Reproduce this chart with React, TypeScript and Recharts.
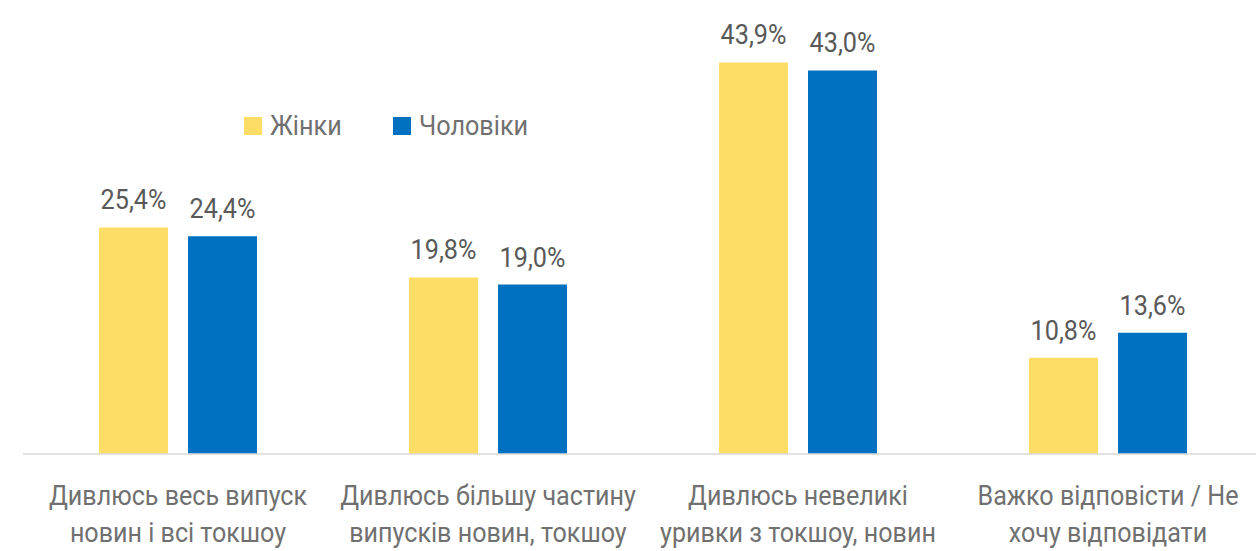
import React from 'react';
import { BarChart, Bar, XAxis, YAxis, LabelList } from 'recharts';

const categories = [
  'Дивлюсь весь випуск новин і всі токшоу',
  'Дивлюсь більшу частину випусків новин, токшоу',
  'Дивлюсь невеликі уривки з токшоу, новин',
  'Важко відповісти / Не хочу відповідати',
];
const tickLines = [
  ['Дивлюсь весь випуск', 'новин і всі токшоу'],
  ['Дивлюсь більшу частину', 'випусків новин, токшоу'],
  ['Дивлюсь невеликі', 'уривки з токшоу, новин'],
  ['Важко відповісти / Не', 'хочу відповідати'],
];
const women = [25.4, 19.8, 43.9, 10.8];
const men = [24.4, 19.0, 43.0, 13.6];
const seriesNames = ['Жінки', 'Чоловіки'];

const data = categories.map((c, i) => ({ name: c, women: women[i], men: men[i] }));

const YELLOW = '#FEDD67';
const BLUE = '#0070C0';
const FONT = 'Roboto, sans-serif';

const fmt = (v: any) => Number(v).toFixed(1).replace('.', ',') + '%';

const Tick = (props: any) => {
  const { x, y, index } = props;
  const lines = tickLines[index] || [];
  return (
    <g transform={`translate(${x},${y}) scale(0.93,1)`}>
      {lines.map((l, i) => (
        <text key={i} x={0} y={43 + i * 37} textAnchor="middle" fill="#707070" fontSize={27} fontFamily={FONT}>
          {l}
        </text>
      ))}
    </g>
  );
};

const ValueLabel = (props: any) => {
  const { x, y, width, value } = props;
  const cx = Number(x) + Number(width) / 2;
  return (
    <g transform={`translate(${cx},${Number(y) - 18}) scale(0.9,1)`}>
      <text x={0} y={0} textAnchor="middle" fill="#595959" fontSize={28} fontFamily={FONT}>
        {fmt(value)}
      </text>
    </g>
  );
};

const LegendBox = () => (
  <div style={{ position: 'absolute', left: 244, top: 112, display: 'flex', alignItems: 'center', fontFamily: FONT, fontSize: 28, color: '#707070' }}>
    {seriesNames.map((n, i) => (
      <div key={n} style={{ display: 'flex', alignItems: 'center', marginRight: i === 0 ? 51 : 0 }}>
        <div style={{ width: 18, height: 18, background: i === 0 ? YELLOW : BLUE, marginRight: 8 }} />
        <span style={{ display: 'inline-block', transform: 'scaleX(0.9)', transformOrigin: 'left center', lineHeight: '28px', width: i === 0 ? 72 : 110, whiteSpace: 'nowrap' }}>{n}</span>
      </div>
    ))}
  </div>
);

export default function App() {
  return (
    <div style={{ position: 'absolute', left: 0, top: 0, width: 1256, height: 551, overflow: 'hidden', background: '#fff' }}>
      <BarChart width={1263} height={551} data={data} margin={{ top: 8, right: 0, bottom: 0, left: 23 }} barSize={69} barGap={20}>
        <XAxis dataKey="name" height={97} tickLine={false} axisLine={{ stroke: '#D9D9D9', strokeWidth: 1.5 }} tick={<Tick />} interval={0} />
        <YAxis hide domain={[0, 50]} />
        <Bar dataKey="women" fill={YELLOW} isAnimationActive={false}>
          <LabelList dataKey="women" content={<ValueLabel />} />
        </Bar>
        <Bar dataKey="men" fill={BLUE} isAnimationActive={false}>
          <LabelList dataKey="men" content={<ValueLabel />} />
        </Bar>
      </BarChart>
      <LegendBox />
    </div>
  );
}
